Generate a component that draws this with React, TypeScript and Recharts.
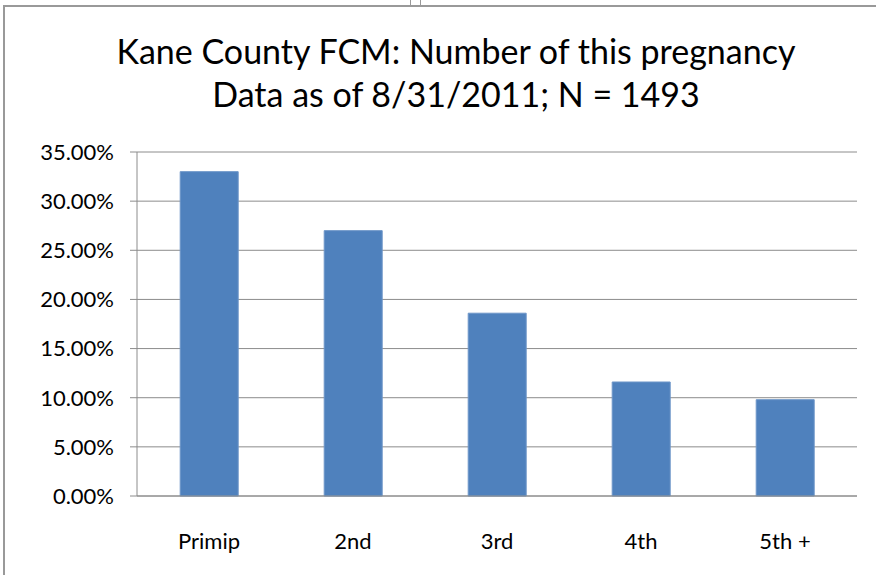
import { Bar, BarChart, CartesianGrid, XAxis, YAxis } from "recharts";

const categories = ["Primip", "2nd", "3rd", "4th", "5th +"];
const shares = [33.0, 27.0, 18.6, 11.6, 9.8];
const yTicks = [0, 5, 10, 15, 20, 25, 30, 35];
const edgeTicks = [0, 1, 2, 3, 4, 5];

const titleLines = [
  "Kane County FCM: Number of this pregnancy",
  "Data as of 8/31/2011; N = 1493",
];

const data = categories.map((name, i) => ({ name, share: shares[i] }));

const font = "Lato, 'Open Sans', sans-serif";
const gridGray = "#8c8c8c";

export default function App() {
  return (
    <div
      style={{
        position: "absolute",
        left: 0,
        top: 0,
        width: 876,
        height: 575,
        overflow: "hidden",
        background: "#fff",
        fontFamily: font,
      }}
    >
      {/* frame of the embedded chart */}
      <div
        style={{
          position: "absolute",
          left: 3,
          top: 5,
          width: 920,
          height: 600,
          borderLeft: "2px solid #999",
          borderTop: "2px solid #999",
        }}
      />
      <div style={{ position: "absolute", left: 410, top: 0, width: 1, height: 5, background: "#999" }} />
      <div style={{ position: "absolute", left: 420, top: 0, width: 1, height: 5, background: "#999" }} />

      <div
        style={{
          position: "absolute",
          left: 0,
          top: 29,
          width: 912,
          textAlign: "center",
          fontSize: 34,
          lineHeight: "43px",
          color: "#000",
        }}
      >
        {titleLines.map((t) => (
          <div key={t}>{t}</div>
        ))}
      </div>

      <div style={{ position: "absolute", left: 0, top: 0 }}>
        <BarChart
          width={876}
          height={575}
          data={data}
          margin={{ top: 152, right: 19, bottom: 29, left: 0 }}
          barCategoryGap="30%"
        >
          <CartesianGrid vertical={false} stroke={gridGray} strokeWidth={1} />
          <XAxis
            xAxisId="edge"
            type="number"
            domain={[0, 5]}
            ticks={edgeTicks}
            tick={false}
            axisLine={false}
            tickLine={{ stroke: gridGray }}
            tickSize={7}
            height={0}
          />
          <XAxis
            dataKey="name"
            axisLine={{ stroke: gridGray }}
            tickLine={false}
            height={50}
            tickMargin={31}
            tick={{ fill: "#000", fontSize: 22, fontFamily: font }}
          />
          <YAxis
            domain={[0, 35]}
            ticks={yTicks}
            width={137}
            axisLine={{ stroke: gridGray }}
            tickLine={{ stroke: gridGray }}
            tickSize={7}
            tickMargin={16}
            tickFormatter={(v) => `${Number(v).toFixed(2)}%`}
            tick={{ fill: "#000", fontSize: 22, fontFamily: font }}
          />
          <Bar
            dataKey="share"
            fill="#4F81BD"
            stroke="#6d96c8"
            strokeWidth={1}
            isAnimationActive={false}
          />
        </BarChart>
      </div>
    </div>
  );
}
